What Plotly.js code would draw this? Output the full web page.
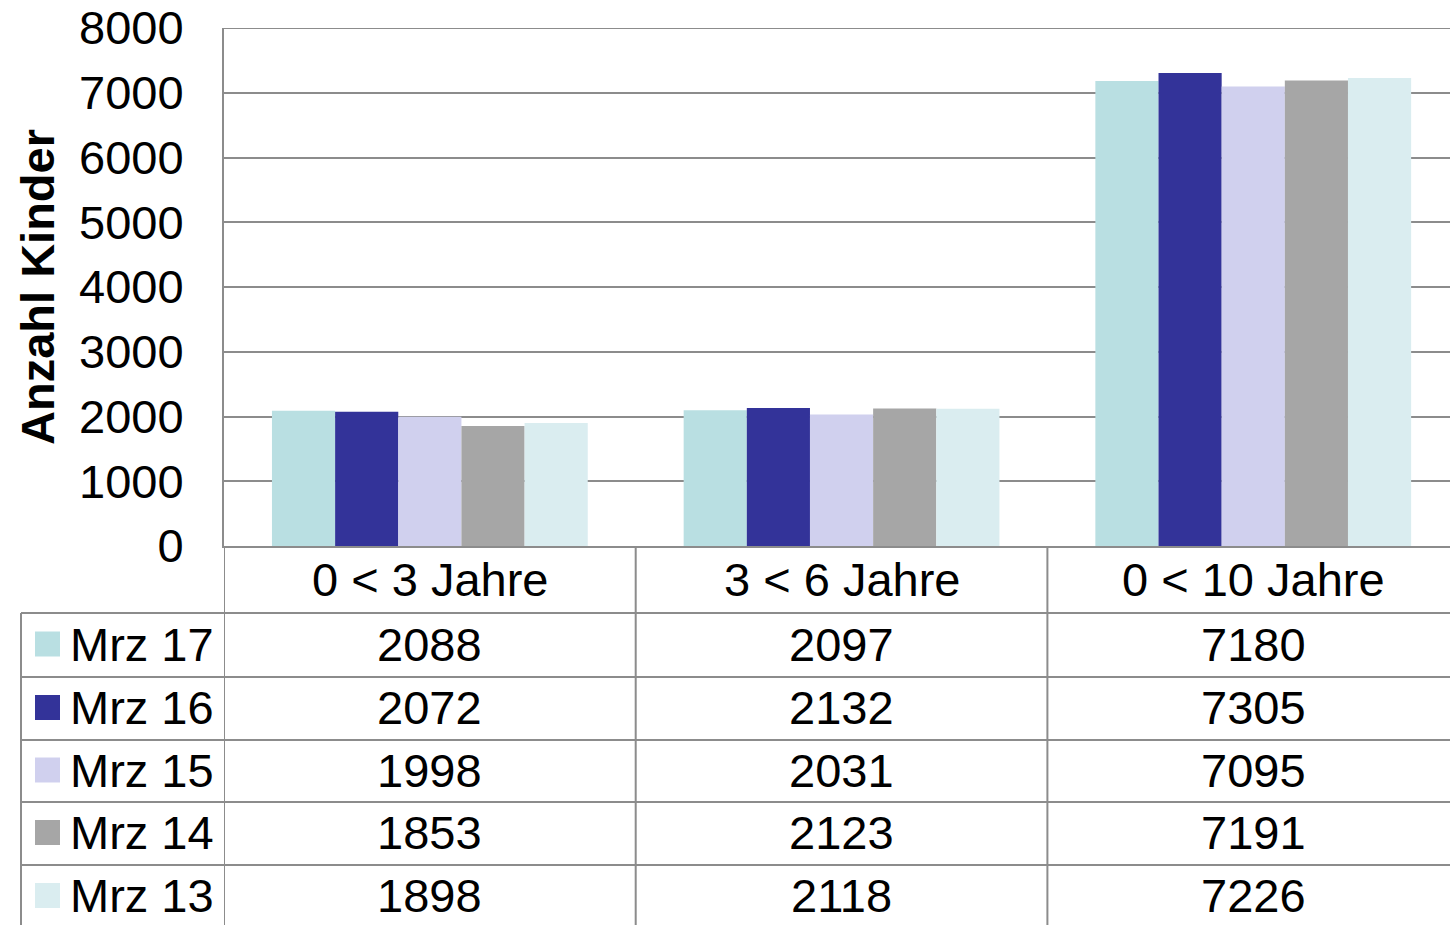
<!DOCTYPE html>
<html>
<head>
<meta charset="utf-8">
<script src="https://cdn.plot.ly/plotly-3.0.1.min.js"></script>
<style>html,body{margin:0;padding:0;background:#fff;overflow:hidden}</style>
</head>
<body>
<div id="chart" style="width:1450px;height:925px"></div>
<script>
const categories = ["0 < 3 Jahre", "3 < 6 Jahre", "0 < 10 Jahre"];
const seriesNames = ["Mrz 17", "Mrz 16", "Mrz 15", "Mrz 14", "Mrz 13"];
const mrz17 = [2088, 2097, 7180];
const mrz16 = [2072, 2132, 7305];
const mrz15 = [1998, 2031, 7095];
const mrz14 = [1853, 2123, 7191];
const mrz13 = [1898, 2118, 7226];
const seriesValues = [mrz17, mrz16, mrz15, mrz14, mrz13];
const colors = ["#B9DFE2", "#333399", "#D0D0EE", "#A6A6A6", "#DAEDF0"];
const yTicks = [0, 1000, 2000, 3000, 4000, 5000, 6000, 7000, 8000];

const W = 1450, H = 925;
const L = 224, T = 28, B = 546;
const plotW = W - L, plotH = B - T;
const px = x => (x - L) / plotW;
const py = y => (B - y) / plotH;

const FONT = "Liberation Sans, Arial, sans-serif";
const FS = 47;
const lineCol = "#8C8C8C";

const traces = seriesNames.map((n, i) => ({
  type: "bar",
  name: n,
  x: [0, 1, 2],
  y: seriesValues[i],
  marker: {color: colors[i], line: {width: 0}},
  hoverinfo: "y"
}));

const headerTop = 546, headerBot = 613;
const rowLines = [613, 677, 740, 802, 865, 928];

const shapes = [];
const annotations = [];
// top gridline (8000)
shapes.push({type: "line", xref: "paper", yref: "y", x0: 0, x1: 1.01, y0: 8000, y1: 8000, line: {color: lineCol, width: 2}, layer: "below"});
// horizontal table lines
rowLines.slice(0, 5).forEach(y => {
  shapes.push({type: "line", xref: "paper", yref: "paper", x0: px(21), x1: 1.01, y0: py(y), y1: py(y), line: {color: lineCol, width: 2}});
});
// vertical lines
shapes.push({type: "line", xref: "paper", yref: "paper", x0: px(21), x1: px(21), y0: py(613), y1: py(930), line: {color: lineCol, width: 2}});
[-0.5, 0.5, 1.5].forEach(c => {
  shapes.push({type: "line", xref: "x", yref: "paper", x0: c, x1: c, y0: py(546), y1: py(930), line: {color: lineCol, width: 2}});
});
// category header labels
categories.forEach((c, j) => {
  annotations.push({xref: "x", yref: "paper", x: j, y: py((headerTop + headerBot) / 2), text: c, showarrow: false, xanchor: "center", yanchor: "middle", font: {family: FONT, size: FS, color: "#000"}});
});
// rows
seriesNames.forEach((n, i) => {
  const yc = (rowLines[i] + rowLines[i + 1]) / 2 - 1;
  shapes.push({type: "rect", xref: "paper", yref: "paper", x0: px(35), x1: px(60), y0: py(yc - 12.5), y1: py(yc + 12.5), fillcolor: colors[i], line: {width: 0}});
  annotations.push({xref: "paper", yref: "paper", x: px(68), y: py(yc), text: n, showarrow: false, xanchor: "left", yanchor: "middle", font: {family: FONT, size: FS, color: "#000"}});
  seriesValues[i].forEach((v, j) => {
    annotations.push({xref: "x", yref: "paper", x: j, y: py(yc), text: String(v), showarrow: false, xanchor: "center", yanchor: "middle", font: {family: FONT, size: FS, color: "#000"}});
  });
});

const layout = {
  width: W, height: H,
  margin: {l: L, r: 0, t: T, b: H - B, pad: 0},
  paper_bgcolor: "#fff", plot_bgcolor: "#fff",
  showlegend: false,
  barmode: "group",
  bargap: 0.233,
  bargroupgap: 0,
  font: {family: FONT, size: FS, color: "#000"},
  xaxis: {
    type: "linear",
    range: [-0.5, -0.5 + plotW / 411.7],
    showticklabels: false, showgrid: false, zeroline: false,
    showline: true, linecolor: lineCol, linewidth: 2, ticks: ""
  },
  yaxis: {
    range: [0, 8000],
    tickvals: yTicks,
    ticktext: yTicks.map(String),
    tickfont: {family: FONT, size: FS, color: "#000"},
    ticks: "",
    ticklabelstandoff: 29,
    showgrid: true, gridcolor: lineCol, gridwidth: 2,
    zeroline: false,
    showline: true, linecolor: lineCol, linewidth: 2,
    title: {text: "<b>Anzahl Kinder</b>", font: {family: FONT, size: 47, color: "#000"}, standoff: 10}
  },
  shapes: shapes,
  annotations: annotations
};

Plotly.newPlot("chart", traces, layout, {displayModeBar: false, staticPlot: true});
</script>
</body>
</html>
